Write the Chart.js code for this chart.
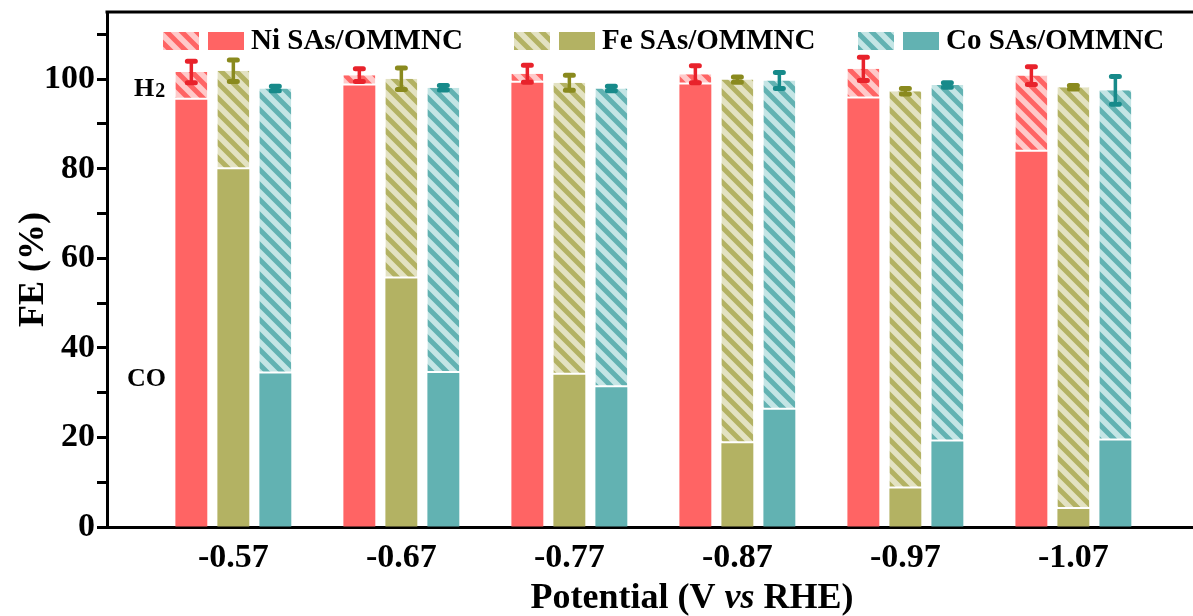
<!DOCTYPE html>
<html>
<head>
<meta charset="utf-8">
<script src="https://cdn.jsdelivr.net/npm/chart.js@4/dist/chart.umd.min.js"></script>
<style>
  html, body { margin: 0; padding: 0; background: #fff; }
  #wrap { width: 1193px; height: 616px; position: relative; }
</style>
</head>
<body>
<div id="wrap"><canvas id="fe"></canvas></div>
<script>
// Applied potentials (V vs RHE)
const potentials = ['-0.57', '-0.67', '-0.77', '-0.87', '-0.97', '-1.07'];

// Faradaic efficiencies (%): CO share (solid) and H2 share stacked on top (hatched)
const niCO = [95.4, 98.6, 99.2, 98.8, 95.7, 83.8];
const niH2 = [6.2, 2.3, 2.0, 2.3, 6.6, 17.0];
const feCO = [79.9, 55.5, 34.0, 18.7, 8.6, 4.0];
const feH2 = [22.0, 44.6, 65.2, 81.2, 88.7, 94.2];
const coCO = [34.3, 34.4, 31.2, 26.2, 19.1, 19.3];
const coH2 = [63.6, 63.7, 66.7, 73.5, 79.6, 78.2];

// Error on the total FE
const niErr = [2.4, 1.4, 1.9, 1.9, 2.6, 2.0];
const feErr = [2.4, 2.4, 1.7, 0.6, 0.6, 0.4];
const coErr = [0.5, 0.5, 0.5, 1.8, 0.5, 3.1];

const catalystNames = ['Ni SAs/OMMNC', 'Fe SAs/OMMNC', 'Co SAs/OMMNC'];
const yMajorTicks = [0, 20, 40, 60, 80, 100];

const SERIF = '"Liberation Serif", "Times New Roman", serif';

const styles = [
  { solid: '#FF6464', pale: '#FFC9C9', err: '#E8222B' },
  { solid: '#B3B263', pale: '#E3E2C2', err: '#8A8A1E' },
  { solid: '#62B2B2', pale: '#C4E5E5', err: '#178A8A' }
];

const coSeries = [niCO, feCO, coCO];
const h2Series = [niH2, feH2, coH2];
const errSeries = [niErr, feErr, coErr];

const canvas = document.getElementById('fe');
const ctx0 = canvas.getContext('2d');

// Diagonal "\" hatch: pale ground with bands of the series colour
function hatch(pale, stripe) {
  const P = 15;
  const c = document.createElement('canvas');
  c.width = P; c.height = P;
  const g = c.getContext('2d');
  g.fillStyle = pale;
  g.fillRect(0, 0, P, P);
  g.strokeStyle = stripe;
  g.lineWidth = (P / Math.SQRT2) * 0.47;
  g.beginPath();
  for (let k = -1; k <= 1; k++) {
    g.moveTo(k * P - 3, -3);
    g.lineTo(k * P + P + 3, P + 3);
  }
  g.stroke();
  return ctx0.createPattern(c, 'repeat');
}

const patterns = styles.map(s => hatch(s.pale, s.solid));
const stackIds = ['Ni', 'Fe', 'Co'];

const datasets = [];
catalystNames.forEach((name, k) => {
  datasets.push({
    label: name + ' CO',
    data: coSeries[k].map((v, i) => ({ x: i, y: v })),
    backgroundColor: styles[k].solid,
    borderWidth: 0,
    stack: stackIds[k]
  });
  datasets.push({
    label: name + ' H2',
    data: h2Series[k].map((v, i) => ({ x: i, y: v })),
    backgroundColor: patterns[k],
    borderColor: '#ffffff',
    borderWidth: { top: 0, left: 0, right: 0, bottom: 2 },
    borderSkipped: false,
    stack: stackIds[k]
  });
});

// Error bars on top of each stacked column
const errorBars = {
  id: 'errorBars',
  afterDatasetsDraw(chart) {
    const { ctx, scales: { y } } = chart;
    catalystNames.forEach((_, k) => {
      const meta = chart.getDatasetMeta(k * 2 + 1);
      meta.data.forEach((bar, i) => {
        const total = coSeries[k][i] + h2Series[k][i];
        const e = errSeries[k][i];
        const yt = y.getPixelForValue(total + e);
        const yb = y.getPixelForValue(total - e);
        ctx.save();
        ctx.strokeStyle = styles[k].err;
        ctx.lineCap = 'round';
        ctx.lineWidth = 3.5;
        ctx.beginPath();
        ctx.moveTo(bar.x, yt);
        ctx.lineTo(bar.x, yb);
        ctx.stroke();
        ctx.lineWidth = 5;
        ctx.beginPath();
        ctx.moveTo(bar.x - 4, yt); ctx.lineTo(bar.x + 4, yt);
        ctx.moveTo(bar.x - 4, yb); ctx.lineTo(bar.x + 4, yb);
        ctx.stroke();
        ctx.restore();
      });
    });
  }
};

// Frame top line, legend, product labels and the x-axis title
const decorations = {
  id: 'decorations',
  afterDraw(chart) {
    const { ctx, chartArea: a, scales: { x, y } } = chart;
    ctx.save();
    // top frame line
    ctx.strokeStyle = '#000';
    ctx.lineWidth = 3;
    ctx.beginPath();
    ctx.moveTo(a.left - 1.5, a.top);
    ctx.lineTo(a.right, a.top);
    ctx.stroke();

    // legend: hatched swatch, solid swatch, name
    const legendX = [a.left + 56, a.left + 407, a.left + 751];
    ctx.font = 'bold 29px ' + SERIF;
    ctx.textBaseline = 'middle';
    ctx.fillStyle = '#000';
    catalystNames.forEach((name, k) => {
      const lx = legendX[k];
      ctx.fillStyle = patterns[k];
      ctx.fillRect(lx, 32, 36, 18);
      ctx.fillStyle = styles[k].solid;
      ctx.fillRect(lx + 45, 32, 36, 18);
      ctx.fillStyle = '#000';
      ctx.fillText(name, lx + 88, 42);
    });

    // product labels
    ctx.font = 'bold 26px ' + SERIF;
    ctx.textBaseline = 'alphabetic';
    ctx.fillText('H', 134, y.getPixelForValue(96.2));
    const hw = ctx.measureText('H').width;
    ctx.font = 'bold 20px ' + SERIF;
    ctx.fillText('2', 134 + hw + 1, y.getPixelForValue(96.2) + 1);
    ctx.font = 'bold 26px ' + SERIF;
    ctx.fillText('CO', 127, y.getPixelForValue(31.5));

    // x-axis title with italic "vs"
    const parts = [
      { t: 'Potential (V ', f: 'bold 36px ' + SERIF },
      { t: 'vs', f: 'italic bold 36px ' + SERIF },
      { t: ' RHE)', f: 'bold 36px ' + SERIF }
    ];
    let w = 0;
    parts.forEach(p => { ctx.font = p.f; p.w = ctx.measureText(p.t).width; w += p.w; });
    let tx = x.getPixelForValue(2.73) - w / 2;
    parts.forEach(p => { ctx.font = p.f; ctx.fillText(p.t, tx, 608); tx += p.w; });
    ctx.restore();
  }
};

new Chart(canvas, {
  type: 'bar',
  data: { datasets },
  options: {
    responsive: true,
    maintainAspectRatio: false,
    animation: false,
    layout: { padding: { top: 12, right: 0, bottom: 0, left: 0 } },
    categoryPercentage: 0.75,
    barPercentage: 0.76,
    plugins: { legend: { display: false }, tooltip: { enabled: false } },
    scales: {
      x: {
        type: 'linear',
        offset: false,
        min: -0.752,
        max: 5.712,
        grid: { display: false, offset: false },
        border: { display: true, color: '#000', width: 3 },
        afterBuildTicks(scale) {
          scale.ticks = potentials.map((_, i) => ({ value: i }));
        },
        afterFit(scale) {
          scale.height = 89;
          scale.paddingLeft = 0;
          scale.paddingRight = 0;
        },
        ticks: {
          autoSkip: false,
          maxRotation: 0,
          padding: 3,
          color: '#000',
          font: { family: SERIF, size: 34, weight: 'bold' },
          callback: v => potentials[v] ?? ''
        }
      },
      y: {
        stacked: true,
        min: 0,
        max: 115,
        afterBuildTicks(scale) {
          const t = [];
          for (let v = 0; v <= 110; v += 10) t.push({ value: v });
          scale.ticks = t;
        },
        afterFit(scale) {
          scale.width = 107;
          scale.paddingTop = 0;
          scale.paddingBottom = 0;
        },
        grid: {
          display: true,
          drawOnChartArea: false,
          drawTicks: true,
          tickLength: 10,
          tickWidth: 3,
          tickColor: '#000'
        },
        border: { display: true, color: '#000', width: 3 },
        ticks: {
          padding: 2,
          color: '#000',
          font: { family: SERIF, size: 34, weight: 'bold' },
          callback: v => (yMajorTicks.includes(v) ? v : '')
        },
        title: {
          display: true,
          text: 'FE (%)',
          color: '#000',
          padding: { top: 12, bottom: 0 },
          font: { family: SERIF, size: 36, weight: 'bold' }
        }
      }
    }
  },
  plugins: [errorBars, decorations]
});
</script>
</body>
</html>
